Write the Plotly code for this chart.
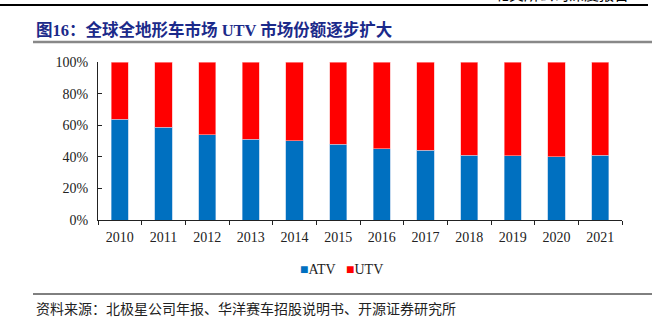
import plotly.graph_objects as go

years = ["2010", "2011", "2012", "2013", "2014", "2015", "2016", "2017", "2018", "2019", "2020", "2021"]
atv = [63.8, 58.8, 53.9, 51.2, 50.1, 48.0, 45.2, 44.2, 41.0, 40.8, 40.0, 41.0]
utv = [round(100 - v, 1) for v in atv]
y_ticks = [0, 20, 40, 60, 80, 100]
y_labels = ["0%", "20%", "40%", "60%", "80%", "100%"]
series_names = ["ATV", "UTV"]
series_colors = ["#0070C0", "#FF0000"]

W, H = 652, 322
L, R, T, B = 98, 30, 62, 102
PW, PH = W - L - R, H - T - B

def px(x):
    return (x - L) / PW

def py(y):
    return (H - B - y) / PH

FONT = "Liberation Serif, Times New Roman, Noto Sans CJK SC, serif"
CJK = "Noto Sans CJK SC, sans-serif"

fig = go.Figure()
fig.add_trace(go.Bar(x=years, y=atv, name=series_names[0],
                     marker=dict(color=series_colors[0], line=dict(color="#9ec3e6", width=0.6))))
fig.add_trace(go.Bar(x=years, y=utv, name=series_names[1],
                     marker=dict(color=series_colors[1], line=dict(color="#ffb3b3", width=0.6))))

fig.update_layout(
    width=W, height=H,
    margin=dict(l=L, r=R, t=T, b=B, pad=0),
    barmode="stack",
    bargap=0.61,
    plot_bgcolor="white", paper_bgcolor="white",
    font=dict(family=FONT, size=14, color="#222"),
    showlegend=False,
    xaxis=dict(showline=True, linecolor="#222", linewidth=1, ticks="outside", ticklen=4,
               tickcolor="#222", tickson="boundaries", showgrid=False, tickfont=dict(size=14),
               ticklabelstandoff=4),
    yaxis=dict(range=[0, 100], tickvals=y_ticks, ticktext=y_labels, showline=True, linecolor="#222",
               linewidth=1, ticks="inside", ticklen=4, tickcolor="#222", showgrid=False,
               zeroline=False, tickfont=dict(size=14), ticklabelstandoff=6),
)

shapes = [
    dict(type="line", xref="paper", yref="paper", x0=px(0), x1=px(648), y0=py(5), y1=py(5),
         line=dict(color="#000", width=2)),
    dict(type="line", xref="paper", yref="paper", x0=px(33), x1=px(652), y0=py(42), y1=py(42),
         line=dict(color="#888", width=2.5)),
    dict(type="line", xref="paper", yref="paper", x0=px(33), x1=px(652), y0=py(294), y1=py(294),
         line=dict(color="#000", width=1)),
]
fig.update_layout(shapes=shapes)

# legend drawn as text: small coloured squares followed by series names
legend_x = [298, 344]
for name, color, lx in zip(series_names, series_colors, legend_x):
    fig.add_annotation(text=f"<span style='color:{color}'>■</span>{name}", xref="paper", yref="paper",
                       x=px(lx), y=py(269), xanchor="left", yanchor="middle", showarrow=False,
                       font=dict(family=FONT, size=14, color="#222"))

fig.add_annotation(text="北交所公司深度报告", xref="paper", yref="paper", x=px(492), y=py(-6),
                   xanchor="left", yanchor="middle", showarrow=False,
                   font=dict(family=CJK, size=15, color="#000"))
fig.add_annotation(text="<b>图16：全球全地形车市场 UTV 市场份额逐步扩大</b>", xref="paper", yref="paper",
                   x=px(34), y=py(30), xanchor="left", yanchor="middle", showarrow=False,
                   font=dict(family="Liberation Serif, Noto Sans CJK SC", size=16.5, color="#1B2A8A"))
fig.add_annotation(text="资料来源：北极星公司年报、华洋赛车招股说明书、开源证券研究所", xref="paper", yref="paper",
                   x=px(34), y=py(308), xanchor="left", yanchor="middle", showarrow=False,
                   font=dict(family=CJK, size=14, color="#222"))

fig.write_html("out.html")
